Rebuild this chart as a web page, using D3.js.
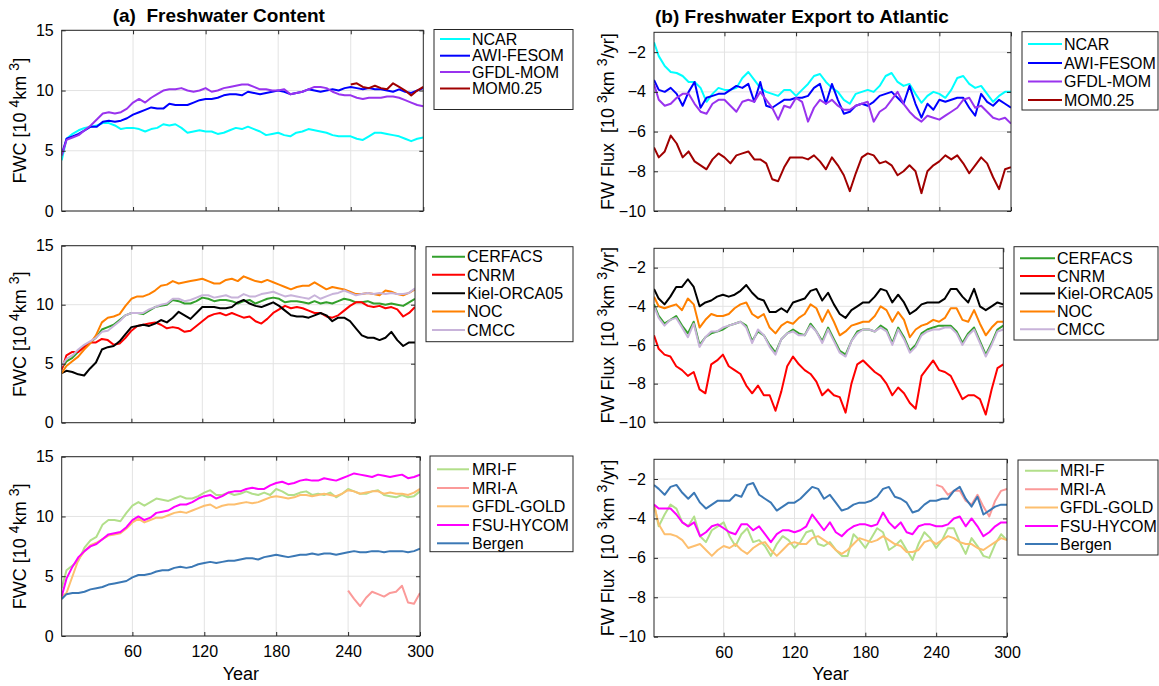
<!DOCTYPE html>
<html>
<head>
<meta charset="utf-8">
<script src="https://cdn.jsdelivr.net/npm/d3@7"></script>
<style>
body { margin: 0; background: #fff; }
svg text { font-family: "Liberation Sans", Arial, Helvetica, sans-serif; fill: #000; white-space: pre; }
</style>
</head>
<body>
<svg id="chart" width="1159" height="686"></svg>
<script>
// model years (sampled every 5 years)
var years = [1,5,10,15,20,25,30,35,40,45,50,55,
  60,65,70,75,80,85,90,95,100,105,110,115,
  120,125,130,135,140,145,150,155,160,165,170,175,
  180,185,190,195,200,205,210,215,220,225,230,235,
  240,245,250,255,260,265,270,275,280,285,290,295,
  300];
var xTicks = [60, 120, 180, 240, 300];
var fwcTicks = [0, 5, 10, 15];
var fluxTicks = [-10, -8, -6, -4, -2];

// ---- (a) freshwater content, 10^4 km^3 ----
var fwcNCAR = [4.2,6.0,6.4,6.7,6.9,7.0,7.1,7.3,7.3,7.1,6.8,6.9,
  6.9,6.8,6.6,6.8,6.9,7.2,7.1,7.2,6.9,6.5,6.6,6.7,
  6.6,6.6,6.4,6.5,6.7,6.9,6.8,7.0,6.8,6.6,6.3,6.4,
  6.5,6.3,6.2,6.5,6.6,6.8,6.7,6.6,6.5,6.3,6.2,6.2,
  6.2,6.0,5.9,6.2,6.5,6.5,6.4,6.3,6.2,6.0,5.8,6.0,
  6.1];
var fwcAWI = [4.7,6.0,6.2,6.4,6.7,7.0,7.0,7.4,7.5,7.4,7.5,7.7,
  8.0,8.2,8.4,8.6,8.5,8.5,8.9,8.8,8.8,8.8,9.0,9.2,
  9.3,9.3,9.4,9.6,9.7,9.7,9.6,9.9,9.8,9.7,9.8,9.9,
  10.0,9.9,9.7,9.8,9.9,10.1,10.0,9.9,10.0,10.1,10.0,10.2,
  10.3,10.2,10.1,10.2,10.1,10.1,10.0,9.9,10.1,9.9,9.8,10.0,
  10.2];
var fwcGFDL = [4.6,5.9,6.1,6.3,6.7,7.1,7.6,8.1,8.2,8.1,8.2,8.5,
  9.0,9.3,9.0,9.4,9.7,10.0,10.1,10.1,10.2,10.0,9.9,10.0,
  10.2,9.9,10.0,10.2,10.3,10.4,10.5,10.5,10.3,10.1,10.1,10.0,
  10.0,10.1,9.7,9.8,9.9,10.1,10.3,10.3,10.2,9.9,9.7,9.6,
  9.6,9.4,9.3,9.4,9.4,9.4,9.5,9.5,9.4,9.2,9.0,8.8,
  8.7];
var fwcMOM = [null,null,null,null,null,null,null,null,null,null,null,null,
  null,null,null,null,null,null,null,null,null,null,null,null,
  null,null,null,null,null,null,null,null,null,null,null,null,
  null,null,null,null,null,null,null,null,null,null,null,null,
  10.5,10.6,10.3,10.2,10.4,10.2,10.1,10.6,10.3,10.0,9.6,10.0,
  10.3];
var fwcCERFACS = [4.6,5.2,5.5,6.0,6.5,6.8,7.2,7.9,8.1,8.3,8.7,9.1,
  9.3,9.3,9.2,9.5,9.8,9.9,10.0,10.4,10.3,10.1,10.1,10.3,
  10.6,10.5,10.3,10.4,10.4,10.3,10.1,10.3,10.4,10.1,10.3,10.5,
  10.6,10.5,10.2,10.3,10.3,10.2,10.1,10.3,10.1,10.2,10.1,10.3,
  10.5,10.4,10.2,10.2,10.3,10.1,10.1,10.0,10.1,10.0,9.9,10.2,
  10.5];
var fwcCNRM = [4.5,5.7,6.0,6.0,6.4,6.8,6.8,7.1,7.0,6.6,6.7,7.2,
  7.8,8.2,8.3,8.4,8.5,8.3,8.0,8.1,8.0,7.7,7.8,8.2,
  8.6,9.0,9.2,9.3,9.1,9.3,9.1,8.9,9.0,8.6,8.4,8.8,
  9.3,9.6,9.9,9.7,9.8,9.7,9.5,9.3,9.3,9.0,8.9,9.1,
  9.5,9.9,10.2,10.2,9.9,9.8,9.9,9.7,9.8,9.6,9.0,9.3,
  9.8];
var fwcKiel = [4.2,4.4,4.3,4.1,4.0,4.6,5.1,6.2,6.4,6.5,6.9,7.5,
  8.1,8.2,8.3,8.2,8.4,8.7,8.5,8.9,9.4,9.1,8.8,9.3,
  9.8,9.8,9.8,9.7,9.7,9.8,10.2,10.4,10.1,9.9,9.8,10.0,
  10.2,9.9,9.5,9.1,9.0,9.0,8.9,9.1,9.3,9.1,8.6,8.9,
  8.9,8.6,8.0,7.4,7.2,7.2,7.0,7.2,7.7,7.0,6.5,6.8,
  6.8];
var fwcNOC = [4.2,4.8,5.2,5.6,6.2,6.7,7.4,8.5,8.9,9.0,9.2,9.9,
  10.5,10.7,10.7,10.9,11.2,11.6,11.7,12.0,11.8,11.9,12.0,12.1,
  12.2,12.0,11.8,11.8,12.1,12.2,12.0,12.4,12.2,12.0,11.9,12.1,
  11.9,11.7,11.5,11.3,11.5,11.6,11.6,11.9,11.6,11.3,11.5,11.4,
  11.3,11.1,10.9,10.9,11.0,10.9,10.8,11.2,11.1,10.9,10.8,11.0,
  11.3];
var fwcCMCC = [4.8,5.4,5.7,6.2,6.6,6.9,7.2,7.7,7.8,8.2,8.6,9.1,
  9.3,9.3,9.3,9.6,9.8,10.0,10.1,10.5,10.5,10.3,10.4,10.6,
  10.8,10.8,10.6,10.7,10.8,10.6,10.6,10.9,10.7,10.7,10.9,11.0,
  11.1,10.9,10.7,10.8,10.7,10.6,10.5,10.8,10.5,10.7,10.9,11.0,
  11.2,11.0,10.8,10.9,11.0,10.9,11.0,10.9,11.0,10.9,10.9,11.0,
  11.4];
var fwcMRIF = [4.0,5.5,5.9,6.3,7.4,8.0,8.3,9.3,9.7,9.7,9.6,10.3,
  10.9,11.2,10.9,11.2,11.5,11.4,11.3,11.5,11.7,11.5,11.5,11.7,
  12.0,12.2,11.8,11.8,12.0,11.8,11.9,12.1,11.9,11.8,12.0,11.8,
  12.3,12.1,11.8,11.8,12.0,12.1,11.8,11.9,11.8,12.0,11.6,11.9,
  12.3,12.1,11.9,11.9,12.1,12.2,11.8,11.7,11.6,11.8,11.6,11.7,
  12.1];
var fwcMRIA = [null,null,null,null,null,null,null,null,null,null,null,null,
  null,null,null,null,null,null,null,null,null,null,null,null,
  null,null,null,null,null,null,null,null,null,null,null,null,
  null,null,null,null,null,null,null,null,null,null,null,null,
  3.8,3.1,2.5,3.2,3.7,3.5,3.3,3.6,3.7,4.2,2.8,2.7,
  3.6];
var fwcGOLD = [3.3,3.6,5.0,6.4,7.1,7.6,7.8,8.1,8.4,8.5,8.6,9.0,
  9.5,9.8,9.5,9.7,9.9,9.9,10.1,10.3,10.4,10.3,10.5,10.7,
  10.9,11.0,10.7,10.9,11.0,11.0,11.1,11.2,11.1,11.2,11.4,11.6,
  11.7,11.6,11.5,11.6,11.8,11.8,11.7,11.8,11.9,11.8,11.7,11.9,
  12.2,12.1,11.9,12.0,12.1,12.1,11.9,12.0,11.9,11.9,11.8,12.0,
  12.3];
var fwcFSU = [3.3,4.8,5.8,6.6,7.1,7.5,7.7,8.1,8.5,8.6,8.7,9.1,
  9.7,10.0,9.7,9.9,10.3,10.4,10.5,10.8,11.0,11.0,11.2,11.5,
  11.7,11.8,11.5,11.7,12.0,12.1,12.1,12.3,12.4,12.3,12.3,12.6,
  12.8,12.9,12.7,12.8,13.0,13.1,13.0,13.0,13.2,13.1,13.0,13.2,
  13.4,13.6,13.5,13.4,13.3,13.5,13.4,13.3,13.4,13.5,13.2,13.3,
  13.5];
var fwcBergen = [3.1,3.5,3.6,3.6,3.7,3.9,4.0,4.1,4.3,4.4,4.5,4.6,
  4.9,5.1,5.1,5.2,5.4,5.5,5.5,5.7,5.8,5.7,5.8,6.0,
  6.1,6.2,6.1,6.2,6.3,6.3,6.4,6.5,6.5,6.4,6.6,6.7,
  6.8,6.7,6.6,6.7,6.8,6.8,6.9,6.8,6.9,6.9,6.8,6.9,
  7.0,7.1,7.0,7.0,7.1,7.1,7.0,7.1,7.1,7.1,7.0,7.1,
  7.3];

// ---- (b) freshwater export to Atlantic, 10^3 km^3/yr ----
var fluxNCAR = [-1.5,-2.2,-2.7,-3.0,-3.05,-3.2,-3.5,-3.5,-3.8,-4.5,-4.1,-3.8,
  -3.9,-3.9,-3.8,-3.3,-3.0,-3.4,-3.8,-4.0,-4.1,-4.2,-3.9,-3.9,
  -4.2,-3.9,-3.6,-3.2,-3.1,-3.5,-3.8,-4.0,-4.4,-4.6,-4.1,-4.0,
  -3.9,-4.0,-3.7,-3.2,-3.05,-3.5,-3.7,-3.6,-4.1,-4.55,-4.2,-4.0,
  -4.1,-4.3,-3.9,-3.3,-3.2,-3.6,-3.8,-3.7,-4.1,-4.5,-4.2,-4.0,
  -4.0];
var fluxAWI = [-3.4,-3.9,-4.0,-3.8,-4.1,-4.7,-4.0,-3.5,-4.8,-4.3,-4.2,-4.1,
  -4.1,-3.9,-3.7,-3.8,-3.6,-4.5,-3.5,-4.7,-4.8,-4.6,-4.4,-4.4,
  -4.3,-4.3,-4.2,-3.8,-3.6,-4.6,-3.6,-4.4,-5.1,-5.0,-4.7,-4.6,
  -4.7,-4.5,-4.2,-4.1,-4.0,-4.3,-4.6,-3.7,-4.6,-5.3,-4.6,-4.9,
  -4.4,-4.5,-4.4,-4.3,-4.3,-4.8,-5.2,-4.1,-4.5,-4.7,-4.4,-4.6,
  -4.8];
var fluxGFDL = [-3.6,-4.4,-4.7,-4.6,-4.3,-4.1,-4.1,-4.6,-5.0,-5.1,-4.6,-4.4,
  -4.4,-4.7,-5.0,-4.5,-4.4,-4.5,-4.0,-4.4,-4.8,-5.4,-4.7,-4.8,
  -4.3,-4.5,-5.5,-4.8,-4.4,-4.6,-4.4,-4.7,-4.9,-4.9,-4.7,-4.6,
  -4.5,-5.5,-5.0,-4.8,-4.4,-4.0,-4.6,-5.0,-5.3,-5.5,-5.2,-5.3,
  -5.4,-5.2,-5.0,-4.8,-4.4,-4.3,-4.8,-4.7,-5.0,-5.3,-5.4,-5.3,
  -5.6];
var fluxMOM = [-6.8,-7.3,-7.0,-6.2,-6.6,-7.3,-7.0,-7.5,-7.7,-7.9,-7.4,-7.1,
  -7.3,-7.6,-7.2,-7.1,-7.0,-7.4,-7.4,-7.6,-8.4,-8.5,-7.8,-7.3,
  -7.3,-7.3,-7.4,-7.2,-7.5,-7.9,-7.3,-7.7,-8.2,-9.0,-8.1,-7.3,
  -7.1,-7.2,-7.6,-7.5,-7.7,-8.2,-8.0,-7.7,-8.0,-9.1,-8.0,-7.7,
  -7.5,-7.2,-7.4,-7.2,-7.6,-8.1,-7.7,-7.3,-7.6,-8.3,-8.9,-7.9,
  -7.8];
var fluxCERFACS = [-3.9,-4.5,-4.9,-4.7,-4.5,-5.0,-5.4,-4.8,-6.0,-5.6,-5.4,-5.3,
  -5.2,-5.0,-4.9,-4.8,-5.0,-5.8,-5.3,-5.5,-6.0,-6.4,-5.7,-5.4,
  -5.2,-5.4,-5.5,-4.9,-5.3,-5.8,-5.1,-5.7,-6.3,-6.5,-5.8,-5.3,
  -5.2,-5.2,-5.3,-5.0,-5.2,-5.9,-5.1,-5.6,-6.3,-6.0,-5.4,-5.2,
  -5.1,-5.0,-5.0,-5.0,-5.3,-5.9,-5.4,-5.1,-5.8,-6.5,-5.9,-5.2,
  -5.0];
var fluxCNRM = [-5.5,-6.2,-6.5,-6.6,-7.1,-7.3,-7.6,-7.4,-8.3,-8.5,-7.0,-6.8,
  -6.5,-7.1,-7.3,-7.5,-8.1,-8.5,-8.1,-8.6,-8.6,-9.4,-8.4,-7.1,
  -6.6,-7.0,-7.3,-7.5,-7.9,-8.6,-8.3,-8.6,-8.7,-9.5,-8.0,-7.0,
  -6.8,-7.1,-7.4,-7.6,-8.0,-8.6,-8.2,-8.5,-9.0,-9.3,-7.6,-7.2,
  -6.8,-7.3,-7.4,-7.6,-8.2,-8.8,-8.6,-8.6,-8.8,-9.6,-8.3,-7.2,
  -7.0];
var fluxKiel = [-3.1,-3.6,-3.9,-3.5,-3.0,-3.0,-2.6,-3.0,-4.0,-3.8,-3.7,-3.5,
  -3.4,-3.5,-3.4,-3.2,-2.9,-3.3,-3.6,-3.7,-4.3,-4.3,-4.1,-4.3,
  -3.8,-3.7,-3.6,-3.2,-3.1,-3.7,-3.3,-3.9,-4.4,-4.6,-4.2,-4.0,
  -3.8,-3.8,-3.5,-3.1,-3.2,-3.8,-3.4,-3.8,-4.4,-4.2,-3.9,-3.8,
  -3.8,-3.8,-3.6,-3.1,-3.1,-3.5,-3.8,-3.1,-4.0,-4.2,-4.0,-3.8,
  -3.9];
var fluxNOC = [-3.5,-4.0,-4.1,-4.0,-3.9,-4.2,-3.6,-3.9,-5.1,-4.7,-4.4,-4.5,
  -4.5,-4.4,-4.1,-3.9,-3.8,-4.4,-4.6,-4.4,-5.1,-5.4,-5.0,-4.8,
  -4.9,-4.6,-4.4,-3.9,-4.1,-4.8,-4.2,-4.8,-5.5,-5.3,-5.0,-4.9,
  -4.8,-4.8,-4.5,-4.0,-4.2,-4.8,-4.3,-4.7,-5.6,-5.2,-5.0,-4.9,
  -4.7,-4.8,-4.6,-4.1,-4.1,-4.7,-4.8,-4.2,-4.9,-5.5,-5.1,-4.8,
  -4.8];
var fluxCMCC = [-4.0,-4.6,-5.0,-4.7,-4.6,-5.1,-5.6,-4.9,-6.1,-5.6,-5.3,-5.3,
  -5.1,-5.0,-4.9,-4.8,-5.1,-5.9,-5.2,-5.5,-6.1,-6.5,-5.7,-5.4,
  -5.3,-5.5,-5.5,-5.0,-5.3,-5.9,-5.2,-5.8,-6.4,-6.6,-5.8,-5.4,
  -5.2,-5.2,-5.3,-5.1,-5.3,-6.0,-5.2,-5.7,-6.4,-6.1,-5.5,-5.3,
  -5.2,-5.2,-5.1,-5.1,-5.4,-6.0,-5.5,-5.2,-5.9,-6.6,-6.0,-5.3,
  -5.2];
var fluxMRIF = [-3.3,-4.4,-3.8,-3.3,-3.5,-4.2,-4.4,-3.9,-4.9,-5.2,-4.6,-4.4,
  -4.2,-4.9,-5.4,-4.8,-4.5,-5.2,-5.1,-5.4,-5.9,-5.3,-4.9,-5.1,
  -5.5,-5.2,-4.7,-4.6,-5.3,-5.4,-5.2,-5.6,-5.9,-5.9,-4.8,-5.1,
  -5.5,-5.0,-4.5,-4.7,-5.6,-5.4,-5.1,-5.6,-6.1,-5.3,-4.7,-5.0,
  -5.5,-5.1,-4.5,-4.5,-5.2,-5.8,-5.0,-5.4,-5.9,-6.0,-5.3,-4.8,
  -5.1];
var fluxMRIA = [null,null,null,null,null,null,null,null,null,null,null,null,
  null,null,null,null,null,null,null,null,null,null,null,null,
  null,null,null,null,null,null,null,null,null,null,null,null,
  null,null,null,null,null,null,null,null,null,null,null,null,
  -2.3,-2.4,-2.8,-2.6,-2.6,-3.1,-3.3,-2.8,-3.4,-3.9,-3.1,-2.6,
  -2.5];
var fluxGOLD = [-3.3,-4.3,-4.8,-4.8,-4.9,-5.1,-5.5,-5.4,-5.3,-5.6,-5.9,-5.6,
  -5.4,-5.5,-5.3,-5.6,-5.8,-5.5,-5.3,-5.2,-5.6,-5.9,-5.6,-5.3,
  -5.2,-5.3,-5.3,-5.0,-4.9,-5.1,-5.3,-5.6,-5.8,-5.6,-5.3,-5.0,
  -5.1,-5.2,-5.1,-4.9,-5.1,-5.3,-5.4,-5.7,-5.7,-5.6,-5.2,-5.1,
  -5.3,-5.1,-4.9,-5.0,-5.2,-5.3,-5.3,-5.5,-5.6,-5.4,-5.2,-5.0,
  -5.1];
var fluxFSU = [-3.3,-3.5,-3.5,-3.5,-3.8,-4.2,-4.4,-4.2,-4.9,-4.7,-4.4,-4.3,
  -4.5,-4.7,-4.8,-4.3,-4.3,-4.6,-4.4,-4.8,-5.2,-4.8,-4.6,-4.6,
  -4.7,-4.6,-4.4,-3.8,-4.2,-4.6,-4.2,-4.7,-4.9,-4.6,-4.4,-4.3,
  -4.3,-4.4,-4.3,-3.7,-4.2,-4.5,-4.2,-4.7,-4.8,-4.4,-4.3,-4.3,
  -4.4,-4.4,-4.3,-4.0,-3.9,-4.4,-4.0,-4.4,-4.9,-4.7,-4.4,-4.2,
  -4.2];
var fluxBergen = [-2.3,-2.5,-2.8,-2.4,-2.3,-2.7,-3.0,-2.7,-3.2,-3.5,-3.3,-3.1,
  -3.1,-3.1,-2.8,-2.9,-2.3,-2.2,-2.8,-3.0,-3.2,-3.6,-3.4,-3.2,
  -3.2,-3.0,-2.7,-2.4,-2.5,-3.0,-2.8,-3.2,-3.6,-3.5,-3.3,-3.2,
  -3.2,-3.1,-2.9,-2.5,-2.4,-2.9,-3.0,-3.2,-3.7,-3.6,-3.3,-3.1,
  -3.1,-3.0,-3.0,-2.6,-2.4,-3.0,-3.4,-2.9,-3.8,-3.6,-3.4,-3.3,
  -3.3];

var colNCAR = "#00ffff", colAWI = "#0000ff", colGFDL = "#9933ee", colMOM = "#a00000";
var colCERFACS = "#33a02c", colCNRM = "#ff0000", colKiel = "#000000", colNOC = "#ff8000", colCMCC = "#c8b3da";
var colMRIF = "#b2df8a", colMRIA = "#fb9a99", colGOLD = "#fdbf6f", colFSU = "#ff00ff", colBergen = "#3b78b5";

var groupTop = [["NCAR", colNCAR], ["AWI-FESOM", colAWI], ["GFDL-MOM", colGFDL], ["MOM0.25", colMOM]];
var groupMid = [["CERFACS", colCERFACS], ["CNRM", colCNRM], ["Kiel-ORCA05", colKiel], ["NOC", colNOC], ["CMCC", colCMCC]];
var groupBot = [["MRI-F", colMRIF], ["MRI-A", colMRIA], ["GFDL-GOLD", colGOLD], ["FSU-HYCOM", colFSU], ["Bergen", colBergen]];

var svg = d3.select("#chart");
var axisColor = "#262626";
var gridColor = "#e3e3e3";

var panels = [
  {left: 61.7, right: 423.3, top: 30.3, bottom: 211, domain: [0, 15], ticks: fwcTicks, group: groupTop,
   values: [fwcNCAR, fwcAWI, fwcGFDL, fwcMOM], ylab: "fwc", labX: 20, xlabels: false,
   legend: {x: 434, y: 29.5, w: 139, h: 80, rows: [39, 55.7, 72, 88.5], l0: 440, l1: 470, tx: 472}},
  {left: 654, right: 1011, top: 32.3, bottom: 211, domain: [-10, -1], ticks: fluxTicks, group: groupTop,
   values: [fluxNCAR, fluxAWI, fluxGFDL, fluxMOM], ylab: "flux", labX: 608, xlabels: false,
   legend: {x: 1022, y: 31.7, w: 136, h: 78.3, rows: [44, 63, 81.5, 100], l0: 1028, l1: 1062, tx: 1064}},
  {left: 61.7, right: 415, top: 245.7, bottom: 422.7, domain: [0, 15], ticks: fwcTicks, group: groupMid,
   values: [fwcCERFACS, fwcCNRM, fwcKiel, fwcNOC, fwcCMCC], ylab: "fwc", labX: 20, xlabels: false,
   legend: {x: 426, y: 246.7, w: 147, h: 95, rows: [256.7, 274.8, 293.2, 311.6, 330], l0: 432, l1: 465, tx: 467}},
  {left: 654, right: 1003.3, top: 248.3, bottom: 422.3, domain: [-10, -1], ticks: fluxTicks, group: groupMid,
   values: [fluxCERFACS, fluxCNRM, fluxKiel, fluxNOC, fluxCMCC], ylab: "flux", labX: 608, xlabels: false,
   legend: {x: 1014, y: 246.7, w: 144, h: 93.3, rows: [258.3, 276, 293.5, 311.6, 329.3], l0: 1020, l1: 1055, tx: 1057}},
  {left: 61.7, right: 420, top: 456.7, bottom: 636, domain: [0, 15], ticks: fwcTicks, group: groupBot,
   values: [fwcMRIF, fwcMRIA, fwcGOLD, fwcFSU, fwcBergen], ylab: "fwc", labX: 20, xlabels: true,
   legend: {x: 430, y: 456, w: 143, h: 95.7, rows: [469.3, 488, 506.3, 525, 543.3], l0: 437, l1: 469, tx: 472}},
  {left: 654, right: 1007, top: 459.3, bottom: 636.7, domain: [-10, -1], ticks: fluxTicks, group: groupBot,
   values: [fluxMRIF, fluxMRIA, fluxGOLD, fluxFSU, fluxBergen], ylab: "flux", labX: 608, xlabels: true,
   legend: {x: 1018, y: 460, w: 140, h: 95, rows: [470.7, 489.3, 507.5, 526, 544], l0: 1025, l1: 1058, tx: 1060}}
];

function styleAxis(sel) {
  sel.select(".domain").remove();
  sel.selectAll(".tick line").attr("stroke", axisColor);
  sel.selectAll(".tick text").style("font-size", "16px").attr("fill", "#000");
}

// y label with superscripts
function yLabel(g, p) {
  var cy = (p.top + p.bottom) / 2;
  var t = g.append("text")
    .attr("transform", "translate(" + p.labX + "," + cy + ") rotate(-90)")
    .attr("text-anchor", "middle")
    .attr("dy", "0.36em")
    .style("font-size", "18px");
  var parts = p.ylab == "fwc"
    ? [["FWC [10 ", 0], ["4", 1], ["km ", 0], ["3", 1], ["]", 0]]
    : [["FW Flux  [10 ", 0], ["3", 1], ["km ", 0], ["3", 1], ["/yr]", 0]];
  var up = false;
  parts.forEach(function(pt) {
    var s = t.append("tspan").text(pt[0]);
    if (pt[1] && !up) { s.attr("dy", -7).style("font-size", "14px"); up = true; }
    else if (!pt[1] && up) { s.attr("dy", 7); up = false; }
  });
}

function drawPanel(p, idx) {
  var x = d3.scaleLinear().domain([1, 300]).range([p.left, p.right]);
  var y = d3.scaleLinear().domain(p.domain).range([p.bottom, p.top]);
  var g = svg.append("g");

  // grid lines
  g.selectAll(".gx").data(xTicks.slice(0, 4)).enter().append("line")
    .attr("x1", function(d) { return x(d); }).attr("x2", function(d) { return x(d); })
    .attr("y1", p.top).attr("y2", p.bottom)
    .attr("stroke", gridColor).attr("stroke-width", 1);
  g.selectAll(".gy").data(p.ticks).enter().append("line")
    .attr("x1", p.left).attr("x2", p.right)
    .attr("y1", function(d) { return y(d); }).attr("y2", function(d) { return y(d); })
    .attr("stroke", gridColor).attr("stroke-width", 1);

  // clip
  svg.append("clipPath").attr("id", "clip" + idx).append("rect")
    .attr("x", p.left).attr("y", p.top).attr("width", p.right - p.left).attr("height", p.bottom - p.top);

  var line = d3.line()
    .defined(function(d) { return d[1] != null; })
    .x(function(d) { return x(d[0]); })
    .y(function(d) { return y(d[1]); });

  p.group.forEach(function(s, i) {
    var pts = years.map(function(yr, k) { return [yr, p.values[i][k]]; });
    g.append("path").datum(pts)
      .attr("clip-path", "url(#clip" + idx + ")")
      .attr("d", line)
      .attr("fill", "none")
      .attr("stroke", s[1])
      .attr("stroke-width", 2)
      .attr("stroke-linejoin", "round");
  });

  // axes, ticks pointing inward
  g.append("g").attr("transform", "translate(0," + p.bottom + ")")
    .call(d3.axisBottom(x).tickValues(xTicks).tickSize(-4).tickSizeOuter(0).tickPadding(10)
      .tickFormat(p.xlabels ? d3.format("d") : function() { return ""; }))
    .call(styleAxis);
  g.append("g").attr("transform", "translate(0," + p.top + ")")
    .call(d3.axisTop(x).tickValues(xTicks).tickSize(-4).tickSizeOuter(0).tickFormat(function() { return ""; }))
    .call(styleAxis);
  g.append("g").attr("transform", "translate(" + p.left + ",0)")
    .call(d3.axisLeft(y).tickValues(p.ticks).tickSize(-4).tickSizeOuter(0).tickPadding(8))
    .call(styleAxis);
  g.append("g").attr("transform", "translate(" + p.right + ",0)")
    .call(d3.axisRight(y).tickValues(p.ticks).tickSize(-4).tickSizeOuter(0).tickFormat(function() { return ""; }))
    .call(styleAxis);

  g.append("rect")
    .attr("x", p.left).attr("y", p.top)
    .attr("width", p.right - p.left).attr("height", p.bottom - p.top)
    .attr("fill", "none").attr("stroke", axisColor).attr("stroke-width", 1);

  yLabel(g, p);

  if (p.xlabels) {
    g.append("text")
      .attr("x", (p.left + p.right) / 2).attr("y", 680)
      .attr("text-anchor", "middle")
      .style("font-size", "18px")
      .text("Year");
  }

  // legend
  var L = p.legend;
  var lg = svg.append("g");
  lg.append("rect").attr("x", L.x).attr("y", L.y).attr("width", L.w).attr("height", L.h)
    .attr("fill", "#fff").attr("stroke", axisColor).attr("stroke-width", 1);
  p.group.forEach(function(s, i) {
    lg.append("line").attr("x1", L.l0).attr("x2", L.l1).attr("y1", L.rows[i]).attr("y2", L.rows[i])
      .attr("stroke", s[1]).attr("stroke-width", 2);
    lg.append("text").attr("x", L.tx).attr("y", L.rows[i]).attr("dy", "0.36em")
      .style("font-size", "16px").text(s[0]);
  });
}

panels.forEach(drawPanel);

// panel titles
svg.append("text").attr("x", 112.7).attr("y", 21.7)
  .style("font-size", "19px").style("font-weight", "bold")
  .text("(a)  Freshwater Content");
svg.append("text").attr("x", 655).attr("y", 23.3)
  .style("font-size", "19px").style("font-weight", "bold")
  .text("(b) Freshwater Export to Atlantic");
</script>
</body>
</html>
